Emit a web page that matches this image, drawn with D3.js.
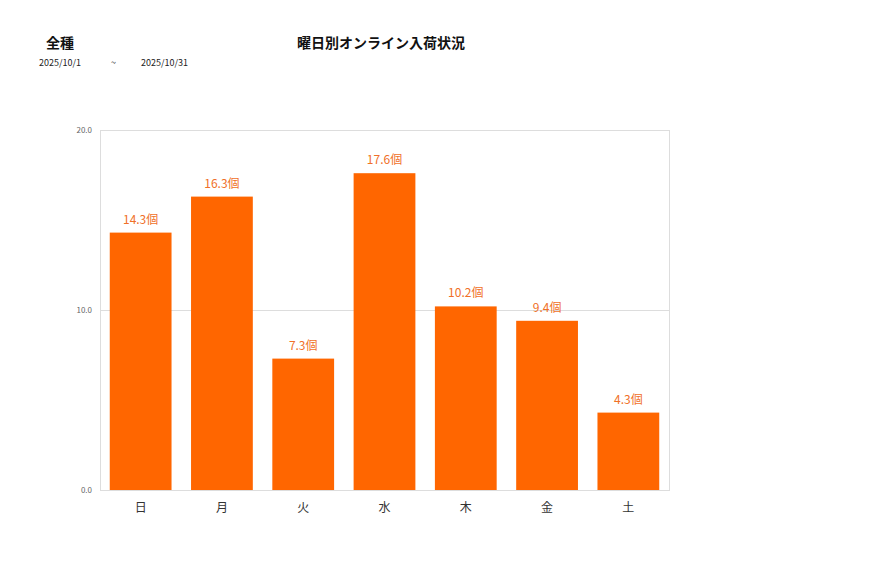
<!DOCTYPE html>
<html><head><meta charset="utf-8">
<script src="https://cdn.jsdelivr.net/npm/d3@7"></script>
<style>
body{margin:0;background:#fff;}
text{font-family:"Noto Sans CJK JP","Noto Sans",sans-serif;}
</style></head>
<body>
<svg id="c" width="877" height="578"></svg>
<script>
const categories = ["日","月","火","水","木","金","土"];
const values = [14.3, 16.3, 7.3, 17.6, 10.2, 9.4, 4.3];
const yTicks = [0, 10, 20];
const unit = "個";
const titleLeft = "全種";
const titleMain = "曜日別オンライン入荷状況";
const dateFrom = "2025/10/1", dateSep = "~", dateTo = "2025/10/31";

const svg = d3.select("#c");
const L=100, R=669, T=130, B=490;
const x = d3.scaleBand().domain(categories).range([L,R]).paddingInner(0.24).paddingOuter(0.12);
const y = d3.scaleLinear().domain([0,20]).range([B,T]);

// grid
svg.append("g").selectAll("line").data(yTicks).join("line")
  .attr("x1",L).attr("x2",R).attr("y1",d=>y(d)+0.5).attr("y2",d=>y(d)+0.5)
  .attr("stroke","#dddddd").attr("stroke-width",1);
// frame
svg.append("rect").attr("x",L+0.5).attr("y",T+0.5).attr("width",R-L).attr("height",B-T)
  .attr("fill","none").attr("stroke","#dddddd");

// y axis labels
svg.append("g").selectAll("text").data(yTicks).join("text")
  .attr("x",L-8).attr("y",d=>y(d)+3).attr("text-anchor","end")
  .attr("font-size",8).attr("fill","#666").text(d=>d3.format(".1f")(d));

// bars
svg.append("g").selectAll("rect").data(values).join("rect")
  .attr("x",(d,i)=>x(categories[i])).attr("width",x.bandwidth())
  .attr("y",d=>y(d)).attr("height",d=>B-y(d)).attr("fill","#ff6600");

// value labels
svg.append("g").selectAll("text").data(values).join("text")
  .attr("x",(d,i)=>x(categories[i])+x.bandwidth()/2).attr("y",d=>y(d)-9)
  .attr("text-anchor","middle").attr("font-size",12).attr("fill","#f07028")
  .text(d=>d3.format(".1f")(d)+unit);

// x labels
svg.append("g").selectAll("text").data(categories).join("text")
  .attr("x",d=>x(d)+x.bandwidth()/2).attr("y",512)
  .attr("text-anchor","middle").attr("font-size",12).attr("fill","#333").text(d=>d);

// titles
svg.append("text").attr("x",46).attr("y",48).attr("font-size",14).attr("font-weight","bold").attr("fill","#111").text(titleLeft);
svg.append("text").attr("x",381).attr("y",48).attr("text-anchor","middle").attr("font-size",14).attr("font-weight","bold").attr("fill","#111").text(titleMain);
svg.append("text").attr("x",39).attr("y",66).attr("font-size",9).attr("fill","#222").text(dateFrom);
svg.append("text").attr("x",111).attr("y",66).attr("font-size",9).attr("fill","#222").text(dateSep);
svg.append("text").attr("x",141).attr("y",66).attr("font-size",9).attr("fill","#222").text(dateTo);
</script>
</body></html>
